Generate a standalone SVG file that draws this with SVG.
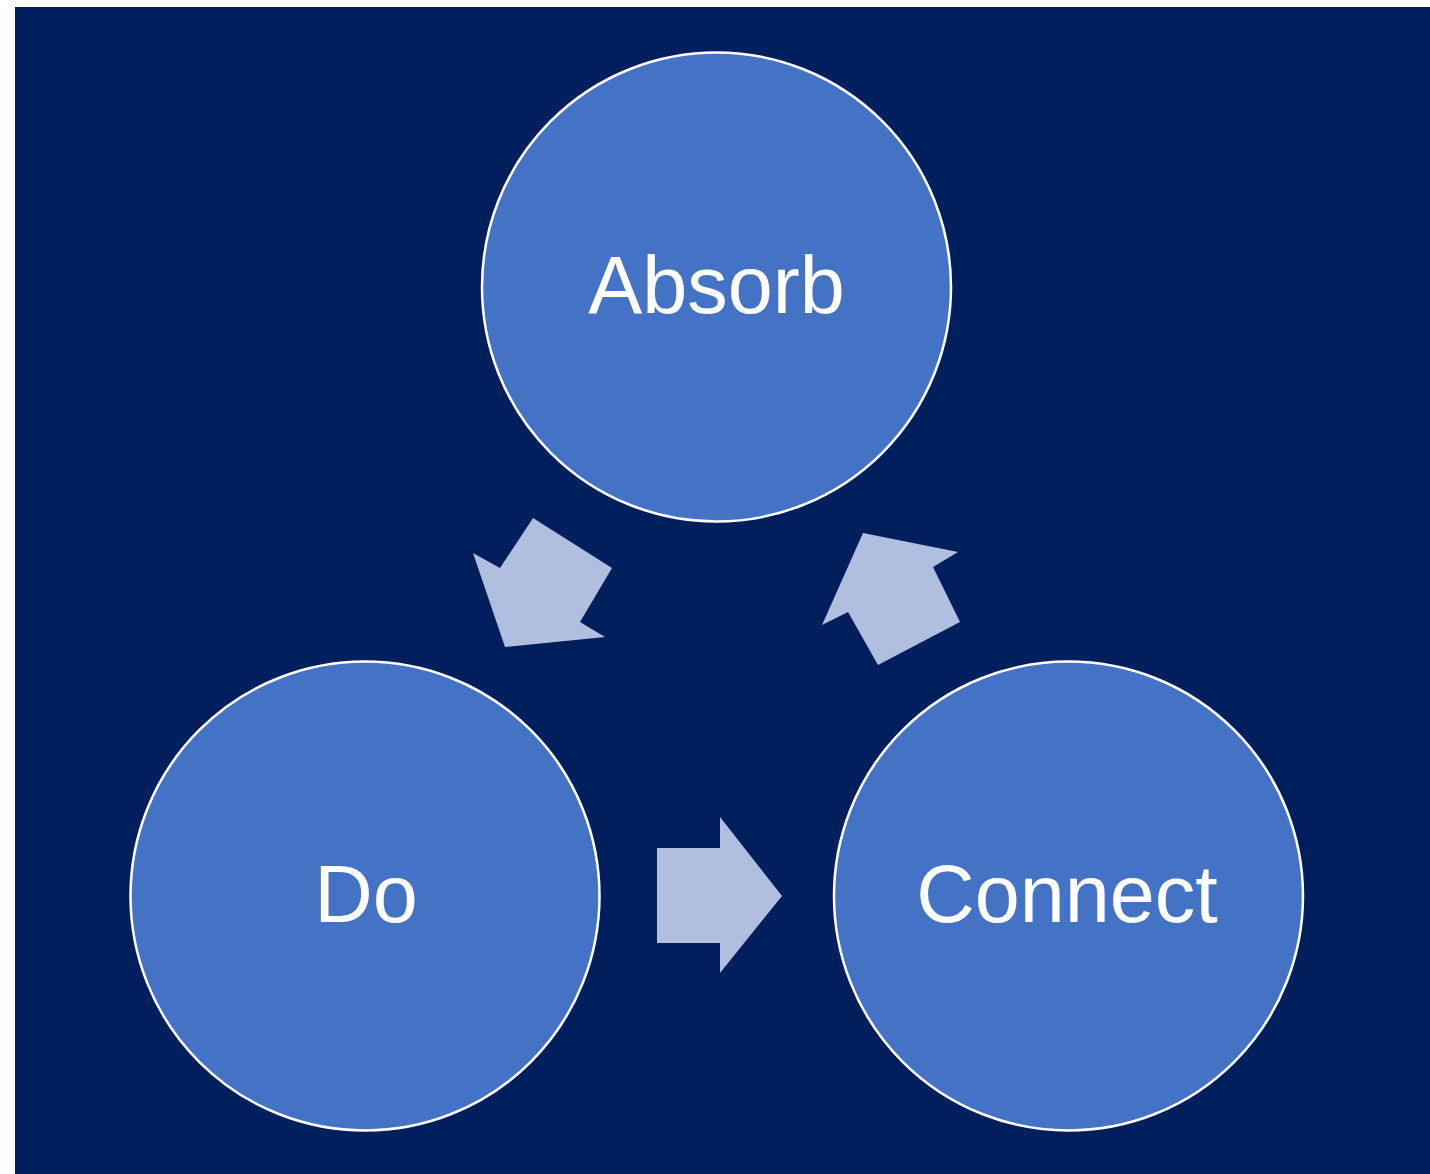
<svg xmlns="http://www.w3.org/2000/svg" width="1430" height="1174" viewBox="0 0 1430 1174">
  <style>
    .node circle { fill: #4472C4; stroke: #FFFFFF; stroke-width: 2.5; }
    .node text { fill: #FFFFFF; font-family: "Liberation Sans", Arial, sans-serif; font-size: 81px; text-anchor: middle; }
    .arrow { fill: #B0BEE0; stroke: none; }
  </style>
  <rect x="0" y="0" width="1430" height="1174" fill="#FFFFFF"/>
  <rect x="15" y="7" width="1415" height="1167" fill="#001F5C"/>
  <g id="connectors">
    <polygon class="arrow" points="473,553 500,568 533,518 612,568 580,622 605,637 505,647"/>
    <polygon class="arrow" points="822,625 848,612 878,665 960,622 933,567 958,552 863,533"/>
    <polygon class="arrow" points="657,848 720,848 720,817 782,896 720,973 720,943 657,943"/>
  </g>
  <g id="absorb" class="node">
    <circle cx="716.5" cy="287" r="234.5"/>
    <text x="716.5" y="313">Absorb</text>
  </g>
  <g id="do" class="node">
    <circle cx="365" cy="896" r="234.5"/>
    <text x="366" y="922">Do</text>
  </g>
  <g id="connect" class="node">
    <circle cx="1068.5" cy="896" r="234.5"/>
    <text x="1067" y="922">Connect</text>
  </g>
</svg>
